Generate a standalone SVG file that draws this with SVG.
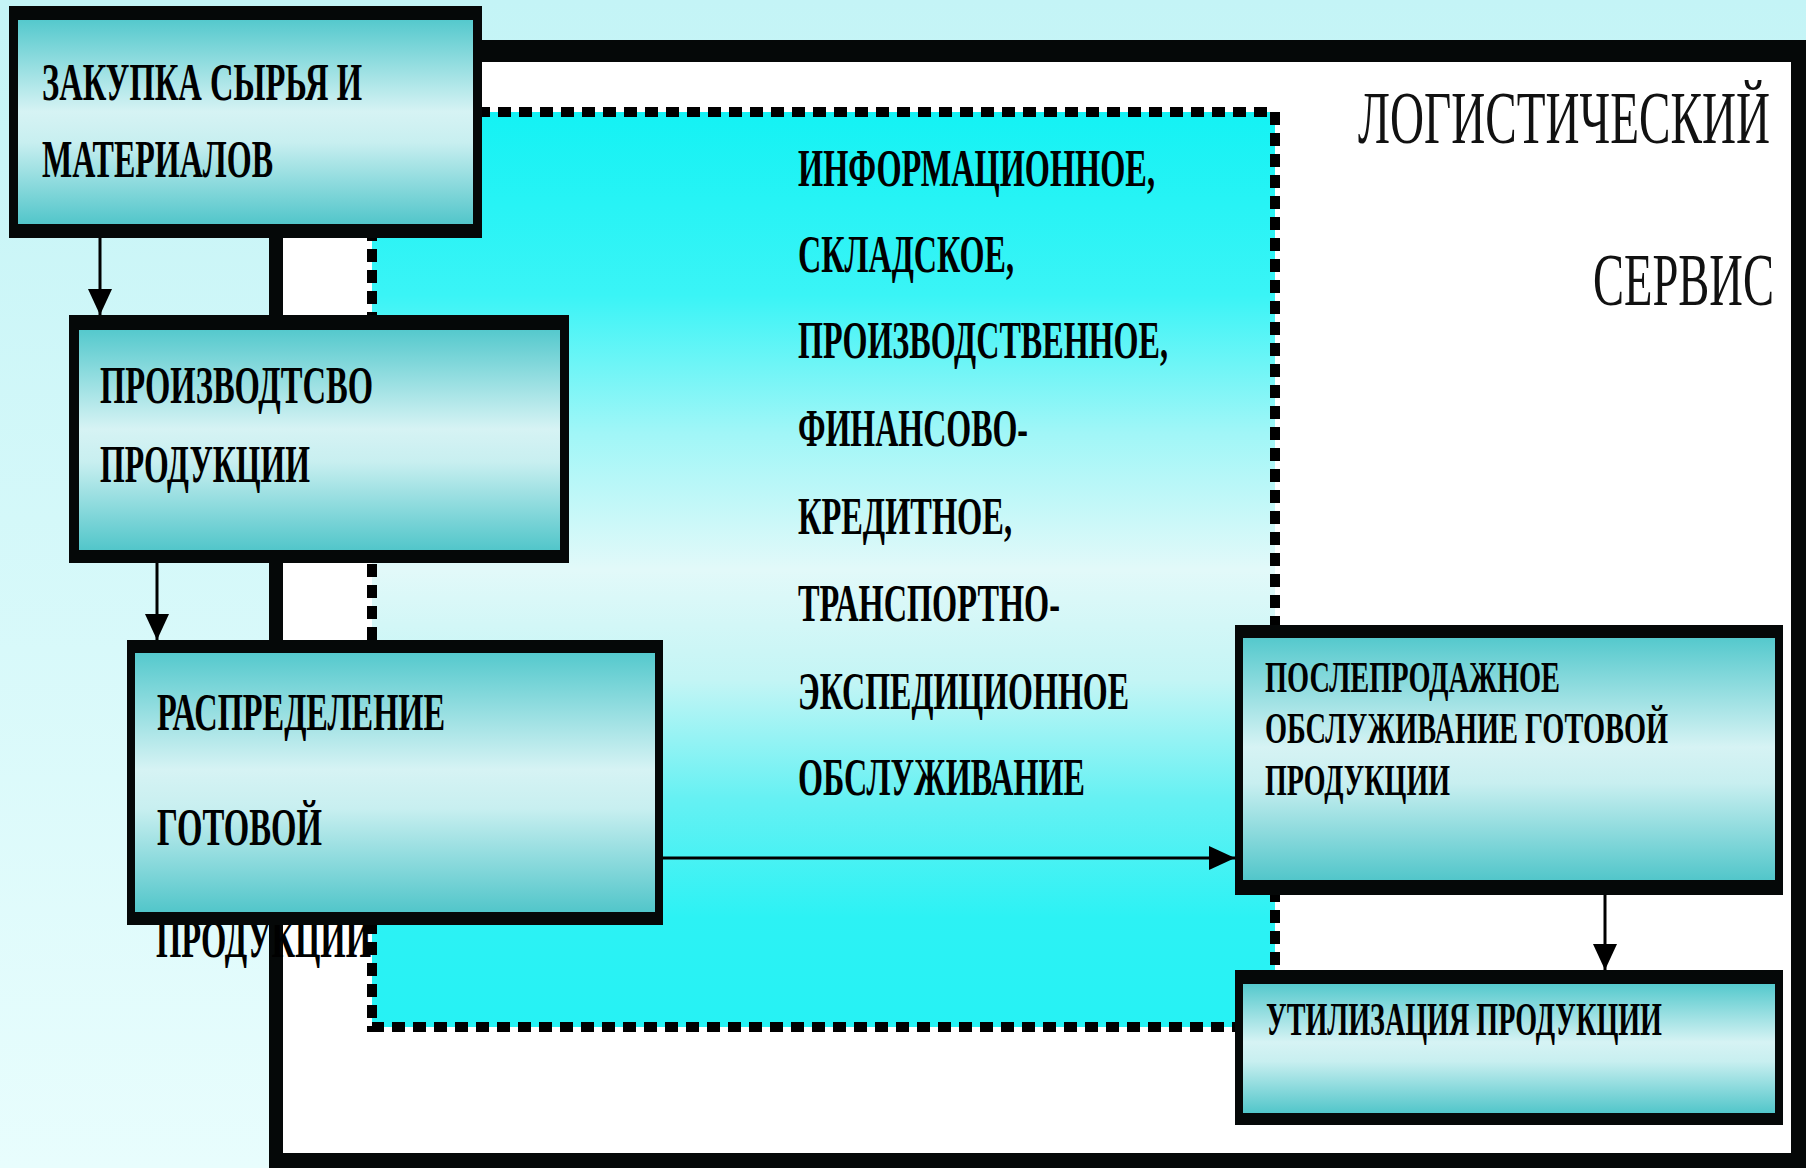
<svg xmlns="http://www.w3.org/2000/svg" width="1806" height="1168" viewBox="0 0 1806 1168">
<defs>
<linearGradient id="bg" x1="0" y1="0" x2="0" y2="1">
<stop offset="0" stop-color="#c4f4f6"/>
<stop offset="1" stop-color="#e8fdfd"/>
</linearGradient>
<linearGradient id="boxg" x1="0" y1="0" x2="0" y2="1">
<stop offset="0" stop-color="#55c9cd"/>
<stop offset="0.45" stop-color="#d6f3f4"/>
<stop offset="0.6" stop-color="#c8eff0"/>
<stop offset="1" stop-color="#52c6ca"/>
</linearGradient>
<linearGradient id="cyang" x1="0" y1="0" x2="0" y2="1">
<stop offset="0" stop-color="#14f2f4"/>
<stop offset="0.2" stop-color="#3af4f6"/>
<stop offset="0.35" stop-color="#a0f6f7"/>
<stop offset="0.5" stop-color="#e2f9f9"/>
<stop offset="0.62" stop-color="#c4f5f5"/>
<stop offset="0.75" stop-color="#66f1f3"/>
<stop offset="0.88" stop-color="#2cf2f4"/>
<stop offset="1" stop-color="#26f2f4"/>
</linearGradient>
<marker id="ah" markerWidth="26" markerHeight="24" refX="26" refY="12" orient="auto" markerUnits="userSpaceOnUse">
<path d="M0,0 L26,12 L0,24 Z" fill="#000"/>
</marker>
<style>
.bt{font-family:"Liberation Serif","DejaVu Serif",serif;font-weight:bold;fill:#000;}
.rt{font-family:"Liberation Serif","DejaVu Serif",serif;font-weight:normal;fill:#111;}
.edge{stroke:#000;stroke-width:3;fill:none;marker-end:url(#ah);}
.outer{fill:#050808;}
.inner{fill:url(#boxg);}
</style>
</defs>

<rect x="0" y="0" width="1806" height="1168" fill="url(#bg)"/>

<g id="frame-logistic-service">
<rect x="269" y="40" width="1537" height="1128" fill="#050808"/>
<rect x="283" y="62" width="1508" height="1091" fill="#ffffff"/>
<text class="rt" x="1358" y="143" font-size="74" textLength="412" lengthAdjust="spacingAndGlyphs">ЛОГИСТИЧЕСКИЙ</text>
<text class="rt" x="1593" y="305" font-size="74" textLength="181" lengthAdjust="spacingAndGlyphs">СЕРВИС</text>
</g>

<g id="node-services">
<rect x="372" y="112" width="903" height="915" fill="url(#cyang)" stroke="#000" stroke-width="10" stroke-dasharray="13 8"/>
<text class="bt" font-size="53" x="798" y="186" textLength="357" lengthAdjust="spacingAndGlyphs">ИНФОРМАЦИОННОЕ,</text>
<text class="bt" font-size="53" x="798" y="272" textLength="216" lengthAdjust="spacingAndGlyphs">СКЛАДСКОЕ,</text>
<text class="bt" font-size="53" x="798" y="358" textLength="370" lengthAdjust="spacingAndGlyphs">ПРОИЗВОДСТВЕННОЕ,</text>
<text class="bt" font-size="53" x="798" y="446" textLength="230" lengthAdjust="spacingAndGlyphs">ФИНАНСОВО-</text>
<text class="bt" font-size="53" x="798" y="534" textLength="214" lengthAdjust="spacingAndGlyphs">КРЕДИТНОЕ,</text>
<text class="bt" font-size="53" x="798" y="621" textLength="262" lengthAdjust="spacingAndGlyphs">ТРАНСПОРТНО-</text>
<text class="bt" font-size="53" x="798" y="709" textLength="331" lengthAdjust="spacingAndGlyphs">ЭКСПЕДИЦИОННОЕ</text>
<text class="bt" font-size="53" x="798" y="795" textLength="287" lengthAdjust="spacingAndGlyphs">ОБСЛУЖИВАНИЕ</text>
</g>

<g id="connectors">
<line class="edge" x1="100" y1="238" x2="100" y2="315"/>
<line class="edge" x1="157" y1="563" x2="157" y2="640"/>
<line class="edge" x1="663" y1="858" x2="1235" y2="858"/>
<line class="edge" x1="1605" y1="895" x2="1605" y2="970"/>
</g>

<g id="node-zakupka">
<rect class="outer" x="9" y="6" width="473" height="232"/>
<rect class="inner" x="18" y="20" width="455" height="204"/>
<text class="bt" font-size="53" x="42" y="100" textLength="320" lengthAdjust="spacingAndGlyphs">ЗАКУПКА СЫРЬЯ И</text>
<text class="bt" font-size="53" x="42" y="177" textLength="231" lengthAdjust="spacingAndGlyphs">МАТЕРИАЛОВ</text>
</g>

<g id="node-proizvodstvo">
<rect class="outer" x="69" y="315" width="500" height="248"/>
<rect class="inner" x="79" y="330" width="481" height="220"/>
<text class="bt" font-size="53" x="100" y="403" textLength="273" lengthAdjust="spacingAndGlyphs">ПРОИЗВОДТСВО</text>
<text class="bt" font-size="53" x="100" y="482" textLength="210" lengthAdjust="spacingAndGlyphs">ПРОДУКЦИИ</text>
</g>

<g id="node-raspredelenie">
<text class="bt" font-size="53" x="156" y="957" textLength="215" lengthAdjust="spacingAndGlyphs">ПРОДУКЦИИ</text>
<rect class="outer" x="127" y="640" width="536" height="285"/>
<rect class="inner" x="135" y="653" width="520" height="259"/>
<text class="bt" font-size="53" x="157" y="730" textLength="288" lengthAdjust="spacingAndGlyphs">РАСПРЕДЕЛЕНИЕ</text>
<text class="bt" font-size="53" x="157" y="845" textLength="165" lengthAdjust="spacingAndGlyphs">ГОТОВОЙ</text>
</g>

<g id="node-posleprodazhnoe">
<rect class="outer" x="1235" y="625" width="548" height="270"/>
<rect class="inner" x="1243" y="638" width="532" height="242"/>
<text class="bt" font-size="44" x="1265" y="692" textLength="295" lengthAdjust="spacingAndGlyphs">ПОСЛЕПРОДАЖНОЕ</text>
<text class="bt" font-size="44" x="1265" y="743" textLength="403" lengthAdjust="spacingAndGlyphs">ОБСЛУЖИВАНИЕ ГОТОВОЙ</text>
<text class="bt" font-size="44" x="1265" y="795" textLength="185" lengthAdjust="spacingAndGlyphs">ПРОДУКЦИИ</text>
</g>

<g id="node-utilizaciya">
<rect class="outer" x="1235" y="970" width="548" height="155"/>
<rect class="inner" x="1243" y="984" width="532" height="129"/>
<text class="bt" font-size="46" x="1266" y="1035" textLength="396" lengthAdjust="spacingAndGlyphs">УТИЛИЗАЦИЯ ПРОДУКЦИИ</text>
</g>
</svg>
